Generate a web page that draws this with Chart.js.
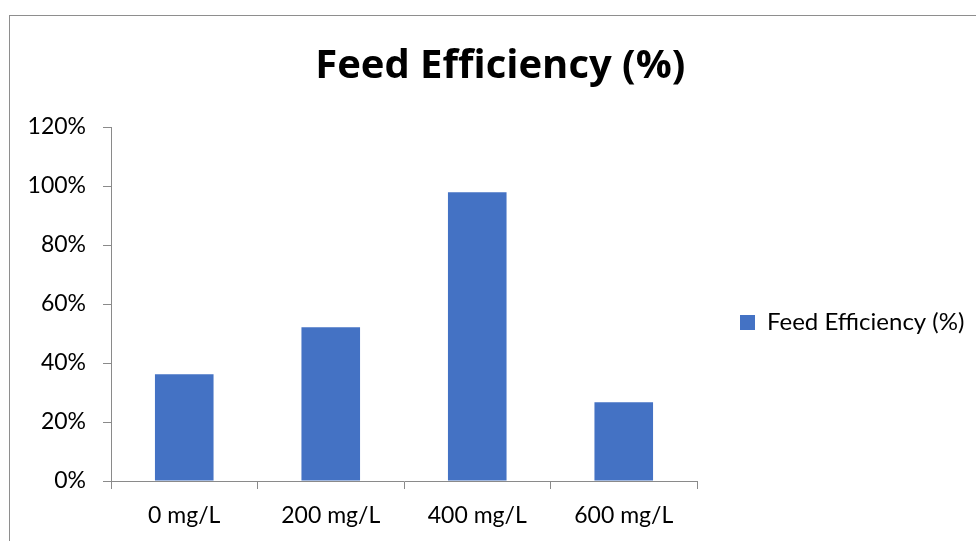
<!DOCTYPE html>
<html>
<head>
<meta charset="utf-8">
<script src="https://cdn.jsdelivr.net/npm/chart.js@4"></script>
<style>
  html, body { margin: 0; padding: 0; background: #fff; overflow: hidden; width: 976px; height: 541px; }
  #frame { position: absolute; left: 9px; top: 15px; width: 1200px; height: 800px; border: 1px solid #8e8e8e; box-sizing: border-box; }
  #wrap { position: absolute; left: 0; top: 0; width: 976px; height: 645px; }
</style>
</head>
<body>
<div id="frame"></div>
<div id="wrap"><canvas id="c" width="976" height="645"></canvas></div>
<script>
// Feed efficiency by dose
const categories = ['0 mg/L', '200 mg/L', '400 mg/L', '600 mg/L'];
const feedEfficiency = [36.2, 52.1, 97.9, 26.7];
const seriesName = 'Feed Efficiency (%)';
const yTicks = [0, 20, 40, 60, 80, 100, 120];

const FONT = 'Lato';
const TITLE_FONT = 'Open Sans';
const AXIS_GREY = '#8a8a8a';
const BAR_BLUE = '#4472C4';
const legendFont = { family: FONT, size: 24 };
const legendPad = 43, legendBox = 15;

function build() {
  // legend sizing: keep the plot's right edge fixed whatever the label width
  const mctx = document.createElement('canvas').getContext('2d');
  mctx.font = legendFont.size + 'px ' + FONT;
  const legendTextW = mctx.measureText(seriesName).width;
  const legendW = legendPad + legendBox + legendFont.size / 2 + legendTextW + 10;
  const padRight = Math.max(0, 279 - legendW);

  new Chart(document.getElementById('c'), {
    type: 'bar',
    data: {
      labels: categories,
      datasets: [{
        label: seriesName,
        data: feedEfficiency,
        backgroundColor: BAR_BLUE,
        borderWidth: 0,
        barPercentage: 0.4,
        categoryPercentage: 1.0
      }]
    },
    options: {
      responsive: false,
      animation: false,
      devicePixelRatio: 1,
      layout: { padding: { left: 26, right: padRight, top: 0, bottom: 0 } },
      plugins: {
        title: {
          display: true,
          text: seriesName,
          color: '#000',
          font: { family: TITLE_FONT, size: 40, weight: 'bold', lineHeight: 1.2 },
          padding: { top: 43, bottom: 36 }
        },
        legend: {
          position: 'right',
          maxWidth: 400,
          labels: {
            boxWidth: legendBox,
            boxHeight: legendBox,
            padding: legendPad,
            color: '#000',
            font: legendFont
          }
        },
        tooltip: { enabled: false }
      },
      scales: {
        x: {
          grid: { display: true, drawOnChartArea: false, tickLength: 8, color: AXIS_GREY, offset: true },
          border: { display: true, color: AXIS_GREY, width: 1 },
          ticks: { color: '#000', font: { family: FONT, size: 23 }, padding: 13 },
          afterFit: (s) => { s.height = 164; }
        },
        y: {
          min: 0,
          max: 120,
          afterBuildTicks: (s) => { s.ticks = yTicks.map(v => ({ value: v })); },
          grid: { display: true, drawOnChartArea: false, tickLength: 8, color: AXIS_GREY },
          border: { display: true, color: AXIS_GREY, width: 1 },
          ticks: { color: '#000', font: { family: FONT, size: 23 }, padding: 17, callback: (v) => v + '%' },
          afterFit: (s) => { s.width = 85; }
        }
      }
    }
  });
}

Promise.all([
  document.fonts.load('24px ' + FONT),
  document.fonts.load('bold 40px "' + TITLE_FONT + '"')
]).then(build, build);
</script>
</body>
</html>
